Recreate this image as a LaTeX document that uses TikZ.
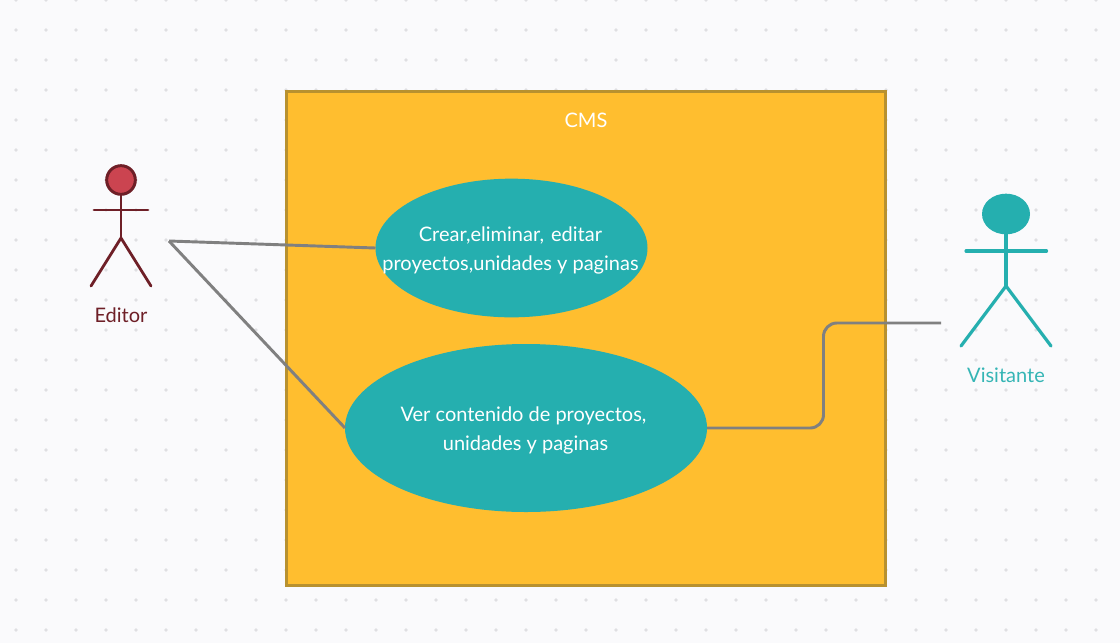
\documentclass[tikz,border=0pt]{standalone}
\usepackage{fontspec}
\setmainfont{Lato}
\usetikzlibrary{shapes.geometric}
\definecolor{pagebg}{HTML}{FAFAFC}
\definecolor{griddot}{HTML}{DFDFE2}
\definecolor{sysfill}{HTML}{FFBE2F}
\definecolor{sysline}{HTML}{B8912F}
\definecolor{teal}{HTML}{25AFAF}
\definecolor{tealtext}{HTML}{35B5B5}
\definecolor{wire}{HTML}{808080}
\definecolor{editline}{HTML}{6E1F27}
\definecolor{editfill}{HTML}{CB4450}
\tikzset{
  x=0.75pt,y=-0.75pt,
  griddotmark/.style={fill=griddot,draw=none},
  sysbox/.style={draw=sysline,fill=sysfill,line width=2.25pt,minimum width=449.5pt,minimum height=370.5pt,inner sep=0pt,outer sep=0pt},
  usecase/.style={ellipse,fill=teal,draw=none,inner sep=0pt,outer sep=0pt},
  casetext/.style={text=white,align=center,inner sep=0pt,font=\fontsize{15}{21.75}\selectfont},
  wireline/.style={draw=wire,line width=2.2pt,rounded corners=10pt},
  editorline/.style={draw=editline,line width=2.1pt,line cap=round},
  visitline/.style={draw=teal,line width=2.4pt,line cap=round},
  actortext/.style={inner sep=0pt,font=\fontsize{15}{18}\selectfont},
}
\begin{document}
\begin{tikzpicture}
\useasboundingbox (0,0) rectangle (1120,643);
\fill[pagebg] (0,0) rectangle (1120,643);
\foreach \i in {0,...,36}{\foreach \j in {0,...,21}{
  \fill[griddotmark] (16+30*\i,30*\j) circle (1.4pt);
}}
\node[sysbox] (sys) at (585.7,338) {};
\node[text=white,actortext] (cms) at (586,120) {CMS};
\node[usecase,minimum width=204pt,minimum height=104pt] (uc1) at (511.5,248) {};
\node[casetext] (uc1t) at (510.5,250) {Crear,eliminar,\hspace{1.5pt} editar\\proyectos,unidades y paginas};
\node[usecase,minimum width=271.5pt,minimum height=126pt] (uc2) at (526,428) {};
\node[casetext] (uc2t) at (523.5,430.5) {Ver contenido de proyectos,\\\hspace*{3pt}unidades y paginas};
% Editor
\node[circle,draw=editline,fill=editfill,line width=2.2pt,minimum size=21.5pt,inner sep=0pt,outer sep=0pt] (edhead) at (121,180) {};
\coordinate (edarmL) at (94,210);
\coordinate (edarmR) at (148,210);
\coordinate (edhip) at (121,238);
\coordinate (edlegL) at (91,286);
\coordinate (edlegR) at (151,286);
\draw[editorline] (edhead.south) -- (edhip);
\draw[editorline] (edarmL) -- (edarmR);
\draw[editorline] (edlegL) -- (edhip) -- (edlegR);
\node[actortext,text=editline] (edlabel) at (121,315.5) {Editor};
% Visitante
\node[ellipse,fill=teal,draw=none,minimum width=36pt,minimum height=30.5pt,inner sep=0pt,outer sep=0pt] (vihead) at (1006,214) {};
\coordinate (viarmL) at (966,251);
\coordinate (viarmR) at (1046.5,251);
\coordinate (vihip) at (1006,286);
\coordinate (vilegL) at (961,346);
\coordinate (vilegR) at (1051,346);
\draw[visitline] (vihead.south) -- (vihip);
\draw[visitline] (viarmL) -- (viarmR);
\draw[visitline] (vilegL) -- (vihip) -- (vilegR);
\node[actortext,text=tealtext] (vilabel) at (1006,375.5) {Visitante};
% Connectors
\coordinate (edport) at (169,241);
\coordinate (viport) at (941,323);
\draw[wireline] (edport) -- (uc1.west);
\draw[wireline] (edport) -- (uc2.west);
\draw[wireline] (uc2.east) -- (823.5,428) -- (823.5,323) -- (viport);
\end{tikzpicture}
\end{document}
